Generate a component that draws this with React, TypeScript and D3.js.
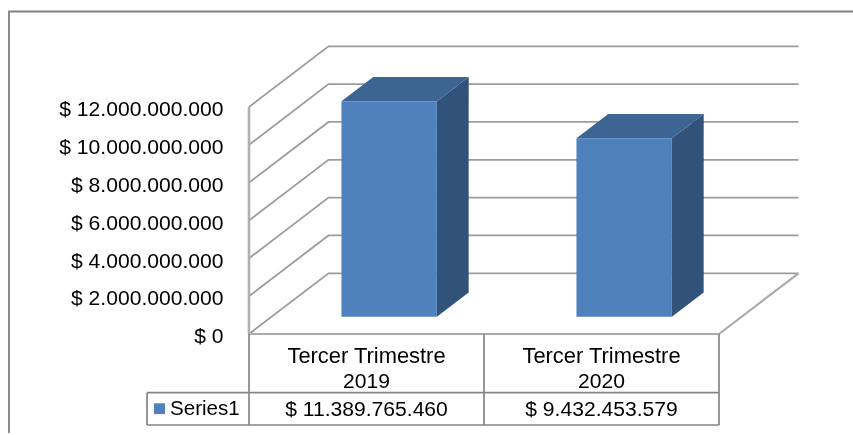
import React from 'react';
import * as d3 from 'd3';

const categories = ['2019', '2020'];
const categoryPrefix = 'Tercer Trimestre';
const seriesName = 'Series1';
const seriesValues = [11389765460, 9432453579];
const valueLabels = ['$ 11.389.765.460', '$ 9.432.453.579'];
const yTicks = [0, 2e9, 4e9, 6e9, 8e9, 10e9, 12e9];
const yTickLabels = ['$ 0', '$ 2.000.000.000', '$ 4.000.000.000', '$ 6.000.000.000', '$ 8.000.000.000', '$ 10.000.000.000', '$ 12.000.000.000'];

const width = 853;
const height = 435;
const left = 249;
const right = 719;
const rowTop = 334;
const rowMid = 392.7;
const rowBottom = 425;
const legendLeft = 147;

// the "3d" box is a plain shear: depth 0 is the front, depth 1 the back wall
const depthX = d3.scaleLinear().domain([0, 1]).range([0, 79.5]);
const depthY = d3.scaleLinear().domain([0, 1]).range([0, -60.7]);

const x = d3.scaleBand<string>().domain(categories).range([left, right]).paddingInner(0.594).paddingOuter(0.297);
const band = d3.scaleBand<string>().domain(categories).range([left, right]);
const y = d3.scaleLinear().domain([0, 12e9]).range([rowTop, 107]);

const barFront = 0.285;
const barBack = 0.685;

const line = d3.line<[number, number]>();
const project = (px: number, value: number, depth: number): [number, number] => [px + depthX(depth), y(value) + depthY(depth)];
const face = (pts: [number, number][]) => line(pts) + 'Z';

const font = '"Liberation Sans", Arial, sans-serif';

export default function App() {
  return (
    <svg width={width} height={height} style={{ position: 'absolute', left: 0, top: 0, display: 'block', background: '#fff' }} fontFamily={font} fontSize={21.1} fill="#000">
      <defs>
        <filter id="soft" x="-2%" y="-2%" width="104%" height="104%">
          <feGaussianBlur stdDeviation="0.5" />
        </filter>
      </defs>
      <g filter="url(#soft)">
        <path d="M9,433V11.5H853" fill="none" stroke="#808080" strokeWidth={1.8} />

        {/* walls */}
        {yTicks.map(t => (
          <path key={t} d={line([project(left, t, 0), project(left, t, 1), project(right, t, 1)]) as string} fill="none" stroke="#9c9c9c" strokeWidth={1.8} />
        ))}
        <path d={line([project(left, 0, 0), project(left, 12e9, 0)]) as string} stroke="#b0b0b0" strokeWidth={2.6} fill="none" />
        <path d={line([project(left, 0, 0), project(right, 0, 0), project(right, 0, 1)]) as string} stroke="#ababab" strokeWidth={2.2} fill="none" />

        {/* bars */}
        {categories.map((c, i) => {
          const x0 = x(c) as number;
          const x1 = x0 + x.bandwidth();
          const v = seriesValues[i];
          return (
            <g key={c}>
              <path d={face([project(x1, 0, barFront), project(x1, 0, barBack), project(x1, v, barBack), project(x1, v, barFront)])} fill="#315379" />
              <path d={face([project(x0, v, barFront), project(x1, v, barFront), project(x1, v, barBack), project(x0, v, barBack)])} fill="#3d6593" />
              <path d={face([project(x0, 0, barFront), project(x1, 0, barFront), project(x1, v, barFront), project(x0, v, barFront)])} fill="#4f81bd" />
            </g>
          );
        })}

        {/* y labels */}
        {yTicks.map((t, i) => (
          <text key={t} x={223.5} y={y(t) + 9.3} textAnchor="end">{yTickLabels[i]}</text>
        ))}

        {/* data table */}
        <g fill="none" stroke="#858585" strokeWidth={1.7}>
          <path d={`M${left},${rowTop}V${rowBottom}`} />
          {categories.map(c => (
            <path key={c} d={`M${(band(c) as number) + band.bandwidth()},${rowTop}V${rowBottom}`} />
          ))}
          <path d={`M${legendLeft},${rowMid}H${right}M${legendLeft},${rowBottom}H${right}M${legendLeft},${rowMid}V${rowBottom}`} />
        </g>
        <rect x={154} y={403.3} width={11} height={10.8} fill="#4f81bd" />
        <text x={170} y={415} fontSize={20.6}>{seriesName}</text>
        {categories.map((c, i) => {
          const cx = (band(c) as number) + band.bandwidth() / 2;
          return (
            <g key={c} textAnchor="middle">
              <text x={cx} y={362.7} fontSize={21.9}>{categoryPrefix}</text>
              <text x={cx} y={388}>{c}</text>
              <text x={cx} y={416}>{valueLabels[i]}</text>
            </g>
          );
        })}
      </g>
    </svg>
  );
}
